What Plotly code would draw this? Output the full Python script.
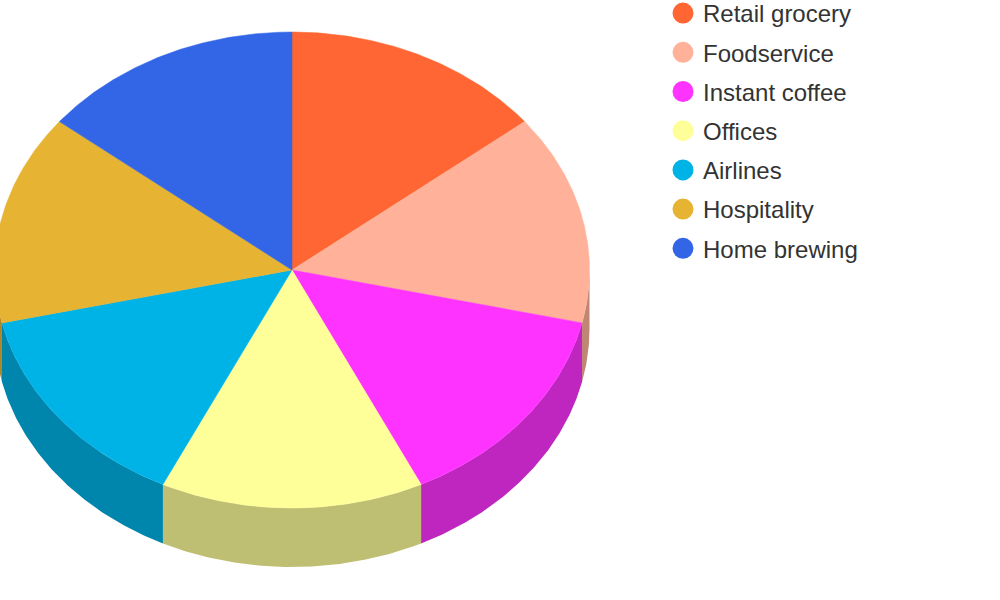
import numpy as np
import plotly.graph_objects as go

categories = ["Retail grocery", "Foodservice", "Instant coffee", "Offices", "Airlines", "Hospitality", "Home brewing"]
shares = [14.3, 14.3, 14.3, 14.3, 14.3, 14.3, 14.3]
top_colors = ["#FF6633", "#FFB299", "#FF33FF", "#FFFF99", "#00B3E6", "#E6B333", "#3366E6"]
side_colors = ["#BF4D26", "#BF8673", "#BF26BF", "#BFBF73", "#0086AD", "#AD8626", "#264DAD"]

CX, CY, RX, RY, DEPTH = 292.0, 270.0, 297.5, 238.0, 59.0


def rim(a0, a1, dy=0.0):
    t = np.linspace(a0, a1, max(2, int(abs(a1 - a0) * 120)))
    return CX + RX * np.sin(t), CY + dy - RY * np.cos(t)


edges = np.concatenate([[0], np.cumsum(shares)]) / np.sum(shares) * 2 * np.pi
fig = go.Figure()

# side walls: only the front half (angles between 90 and 270 degrees) is visible
for i, col in enumerate(side_colors):
    a0, a1 = max(edges[i], np.pi / 2), min(edges[i + 1], 3 * np.pi / 2)
    if a1 <= a0:
        continue
    x0, y0 = rim(a0, a1)
    x1, y1 = rim(a0, a1, DEPTH)
    fig.add_trace(go.Scatter(
        x=np.r_[x0, x1[::-1]], y=np.r_[y0, y1[::-1]], mode="lines", fill="toself",
        fillcolor=col, line=dict(width=0), hoverinfo="skip", showlegend=False))

# top faces
for i, col in enumerate(top_colors):
    xr, yr = rim(edges[i], edges[i + 1])
    fig.add_trace(go.Scatter(
        x=np.r_[CX, xr, CX], y=np.r_[CY, yr, CY], mode="lines", fill="toself",
        fillcolor=col, line=dict(width=0.5, color=col), name=categories[i],
        hoverinfo="name", showlegend=False))

# legend entries
for name, col in zip(categories, top_colors):
    fig.add_trace(go.Scatter(
        x=[None], y=[None], mode="markers", name=name, legendgroup=name,
        marker=dict(symbol="circle", size=16, color=col, line=dict(width=7, color=col)),
        showlegend=True))

fig.update_layout(
    width=1000, height=600, autosize=False,
    margin=dict(l=0, r=0, t=0, b=0, autoexpand=False),
    paper_bgcolor="white", plot_bgcolor="white",
    xaxis=dict(range=[0, 1000], visible=False, fixedrange=True),
    yaxis=dict(range=[600, 0], visible=False, fixedrange=True),
    legend=dict(
        x=0.663, y=1.015, xanchor="left", yanchor="top", traceorder="grouped",
        tracegroupgap=5, itemsizing="trace", itemwidth=30,
        font=dict(family="Liberation Sans, Arial, sans-serif", size=24, color="#333333"),
        bgcolor="rgba(0,0,0,0)"),
)
fig.write_html(
    "out.html",
    config={"displayModeBar": False},
    post_script="document.body.style.margin='0';document.body.style.overflow='hidden';",
)
